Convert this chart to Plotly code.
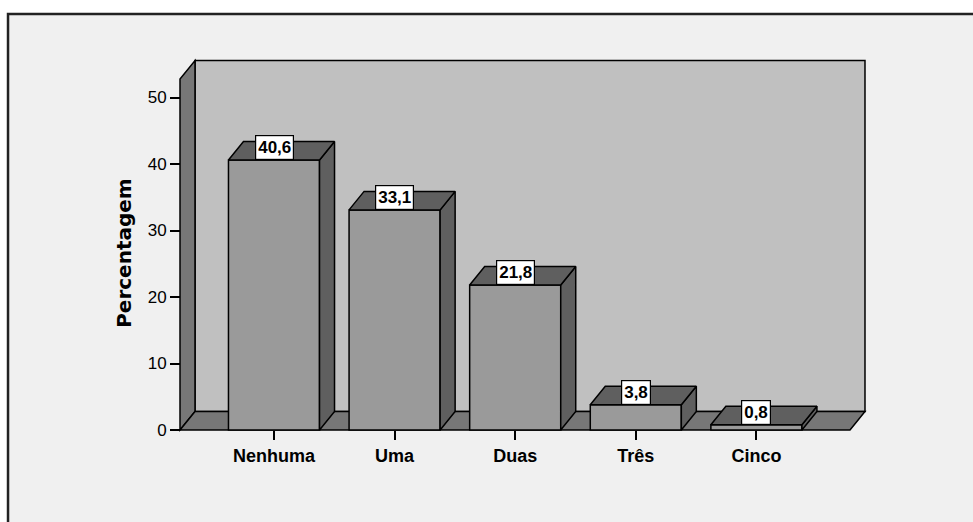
import plotly.graph_objects as go

# ---- data -------------------------------------------------------------
categories = ["Nenhuma", "Uma", "Duas", "Três", "Cinco"]
percentages = [40.6, 33.1, 21.8, 3.8, 0.8]
value_labels = ["40,6", "33,1", "21,8", "3,8", "0,8"]
y_ticks = [0, 10, 20, 30, 40, 50]

# ---- geometry (data units) --------------------------------------------
X_RANGE = [-0.8126, 4.9668]
Y_RANGE = [-0.6015, 56.391]
BAR_W = 0.755          # front-face width of each bar
DX, DY = 0.1244, 2.78  # depth offset of the pseudo-3D box
WALL_X = -0.7794       # front edge of the left wall
FLOOR_X = 4.776        # front-right corner of the floor
WALL_TOP = 52.78       # height of the wall's front edge

# ---- colours ----------------------------------------------------------
BG = "#F0F0F0"
BACK_WALL = "#C0C0C0"
SIDE_WALL = "#777777"
BAR_FRONT = "#9A9A9A"
BAR_SHADE = "#5F5F5F"
EDGE = "#000000"

FONT = "Liberation Sans, Arial, sans-serif"

xs = list(range(len(categories)))

fig = go.Figure()

# front faces of the bars
fig.add_trace(go.Bar(
    x=xs, y=percentages, width=BAR_W,
    marker=dict(color=BAR_FRONT, line=dict(color=EDGE, width=1.5)),
    hoverinfo="skip", showlegend=False,
))

# right-hand side faces and top faces, offset into depth
side_x, side_y, top_x, top_y = [], [], [], []
for x, v in zip(xs, percentages):
    r, l = x + BAR_W / 2, x - BAR_W / 2
    side_x += [r, r + DX, r + DX, r, r, None]
    side_y += [0, DY, v + DY, v, 0, None]
    top_x += [l, l + DX, r + DX, r, l, None]
    top_y += [v, v + DY, v + DY, v, v, None]

for px, py in ((side_x, side_y), (top_x, top_y)):
    fig.add_trace(go.Scatter(
        x=px, y=py, mode="lines", fill="toself", fillcolor=BAR_SHADE,
        line=dict(color=EDGE, width=1.5), hoverinfo="skip", showlegend=False,
    ))

# value boxes sitting on the front top edge of each bar
annotations = []
for x, v, t in zip(xs, percentages, value_labels):
    annotations.append(dict(
        x=x, y=v, xref="x", yref="y", text=t, showarrow=False,
        xanchor="center", yanchor="bottom",
        font=dict(family=FONT, size=17, color="#000000", weight="bold"),
        bgcolor="#FFFFFF", bordercolor=EDGE, borderwidth=1.2, borderpad=2,
    ))

# axis title
annotations.append(dict(
    x=-0.0746, y=0.478, xref="paper", yref="paper", text="Percentagem",
    textangle=-90, showarrow=False, xanchor="center", yanchor="middle",
    font=dict(family="DejaVu Sans", size=20, color="#000000", weight="bold"),
))

# background frame, walls and floor of the 3D box
shapes = [
    dict(type="rect", xref="paper", yref="paper",
         x0=-0.2410, x1=1.1535, y0=-0.2533, y1=1.1082,
         fillcolor=BG, line=dict(color="#222222", width=2.5), layer="below"),
    dict(type="rect", xref="x", yref="y",
         x0=WALL_X + DX, x1=FLOOR_X + DX, y0=DY, y1=WALL_TOP + DY,
         fillcolor=BACK_WALL, line=dict(color=EDGE, width=1.5), layer="below"),
    dict(type="path", xref="x", yref="y",
         path=(f"M {WALL_X},0 L {WALL_X + DX},{DY} L {WALL_X + DX},{WALL_TOP + DY} "
               f"L {WALL_X},{WALL_TOP} Z"),
         fillcolor=SIDE_WALL, line=dict(color=EDGE, width=1.5), layer="below"),
    dict(type="path", xref="x", yref="y",
         path=(f"M {WALL_X},0 L {FLOOR_X},0 L {FLOOR_X + DX},{DY} "
               f"L {WALL_X + DX},{DY} Z"),
         fillcolor=SIDE_WALL, line=dict(color=EDGE, width=1.5), layer="below"),
]

fig.update_layout(
    width=973, height=522,
    margin=dict(l=176, r=100, t=55, b=88),
    paper_bgcolor="#FFFFFF", plot_bgcolor="rgba(0,0,0,0)",
    shapes=shapes, annotations=annotations,
    showlegend=False,
    xaxis=dict(
        range=X_RANGE, anchor="free", position=0.01055,
        tickmode="array", tickvals=xs, ticktext=categories,
        ticks="outside", ticklen=9, tickwidth=2, tickcolor=EDGE,
        showgrid=False, zeroline=False, showline=False,
        tickfont=dict(family=FONT, size=18, color="#000000", weight="bold"),
    ),
    yaxis=dict(
        range=Y_RANGE, anchor="free", position=0.00574,
        tickmode="array", tickvals=y_ticks,
        ticks="outside", ticklen=10, tickwidth=2, tickcolor=EDGE,
        showgrid=False, zeroline=False, showline=False,
        tickfont=dict(family=FONT, size=17, color="#000000"),
    ),
)

fig.write_html("out.html")
